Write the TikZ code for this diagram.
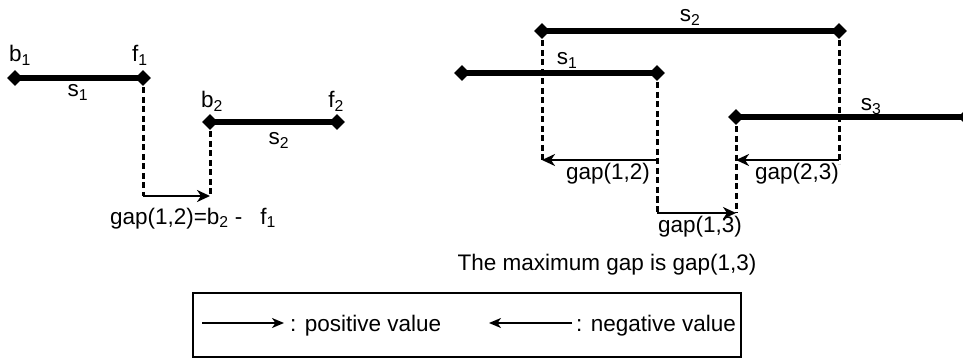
\documentclass[tikz,border=0pt]{standalone}
\usepackage{fontspec}
\setmainfont{Liberation Sans}
\usetikzlibrary{arrows.meta, shapes.geometric, positioning}

\begin{document}
\begin{tikzpicture}[
    x=1pt, y=-1pt,
    endpt/.style={shape=diamond, fill=black, inner sep=0pt, minimum width=16pt, minimum height=16pt},
    segline/.style={line width=5.5pt},
    dropline/.style={line width=3pt, dash pattern=on 6pt off 3.5pt},
    gaparrow/.style={line width=2.5pt, -{Stealth[length=13pt, width=12pt, inset=4pt]}},
    keyarrow/.style={line width=1.8pt, -{Stealth[length=12pt, width=10pt, inset=3.5pt]}},
    legendbox/.style={draw, line width=1.3pt, inner sep=0pt},
    textlabel/.style={font=\fontsize{22.5}{27}\selectfont, inner sep=0pt, anchor=base}
]
    \useasboundingbox (0,0) rectangle (963,358);

    % Left: two disjoint segments
    \node[endpt] (b1) at (15,78) {};
    \node[endpt] (f1) at (143,78) {};
    \node[endpt] (b2) at (210,122) {};
    \node[endpt] (f2) at (337,122) {};
    \draw[segline] (b1.center) -- (f1.center);
    \draw[segline] (b2.center) -- (f2.center);
    \node[textlabel] (b1lab) at (20,62) {b\textsubscript{1}};
    \node[textlabel] (f1lab) at (140,62) {f\textsubscript{1}};
    \node[textlabel] (b2lab) at (212,108) {b\textsubscript{2}};
    \node[textlabel] (f2lab) at (336,108) {f\textsubscript{2}};
    \node[textlabel] (s1lab) at (78,97) {s\textsubscript{1}};
    \node[textlabel] (s2lab) at (279,145) {s\textsubscript{2}};

    \coordinate (gapl) at (143,196);
    \coordinate (gapr) at (b2 |- gapl);
    \draw[dropline] (f1.center) -- (gapl);
    \draw[dropline] (b2.center) -- (gapr);
    \draw[gaparrow] (gapl) -- (gapr);
    \node[textlabel] (gaplab) at (193,224) {gap(1,2)=b\textsubscript{2} -\hspace{0.8em}f\textsubscript{1}};

    % Right: three overlapping segments
    \node[endpt] (r1b) at (462,73) {};
    \node[endpt] (r1f) at (657,73) {};
    \node[endpt] (r2b) at (542,31) {};
    \node[endpt] (r2f) at (839,31) {};
    \node[endpt] (r3b) at (736,117) {};
    \node[endpt] (r3f) at (966,117) {};
    \draw[segline] (r1b.center) -- (r1f.center);
    \draw[segline] (r2b.center) -- (r2f.center);
    \draw[segline] (r3b.center) -- (r3f.center);
    \node[textlabel] (r1lab) at (567,65) {s\textsubscript{1}};
    \node[textlabel] (r2lab) at (690,22) {s\textsubscript{2}};
    \node[textlabel] (r3lab) at (871,111) {s\textsubscript{3}};

    \coordinate (g12r) at (657,160);
    \coordinate (g12l) at (r2b |- g12r);
    \coordinate (g13l) at (657,213);
    \coordinate (g13r) at (r3b |- g13l);
    \coordinate (g23r) at (r2f |- g12r);
    \coordinate (g23l) at (r3b |- g12r);
    \draw[dropline] (r2b.center) -- (g12l);
    \draw[dropline] (r1f.center) -- (g13l);
    \draw[dropline] (r3b.center) -- (g13r);
    \draw[dropline] (r2f.center) -- ([yshift=-4pt]g23r);
    \draw[gaparrow] (g12r) -- (g12l);
    \draw[gaparrow] (g13l) -- (g13r);
    \draw[gaparrow] (g23r) -- (g23l);
    \node[textlabel] (g12lab) at (608,180) {gap(1,2)};
    \node[textlabel] (g23lab) at (797,180) {gap(2,3)};
    \node[textlabel] (g13lab) at (700,232) {gap(1,3)};
    \node[textlabel] (maxlab) at (607,270) {The maximum gap is gap(1,3)};

    % Legend
    \node[legendbox, minimum width=548pt, minimum height=64pt] (legend) at (467,325) {};
    \coordinate (posa) at (202,323);
    \coordinate (posb) at (284,323);
    \coordinate (nega) at (572,323);
    \coordinate (negb) at (489,323);
    \draw[keyarrow] (posa) -- (posb);
    \draw[keyarrow] (nega) -- (negb);
    \node[textlabel, anchor=base west] (poslab) at (290,331) {: positive value};
    \node[textlabel, anchor=base west] (neglab) at (576,331) {: negative value};
\end{tikzpicture}
\end{document}
